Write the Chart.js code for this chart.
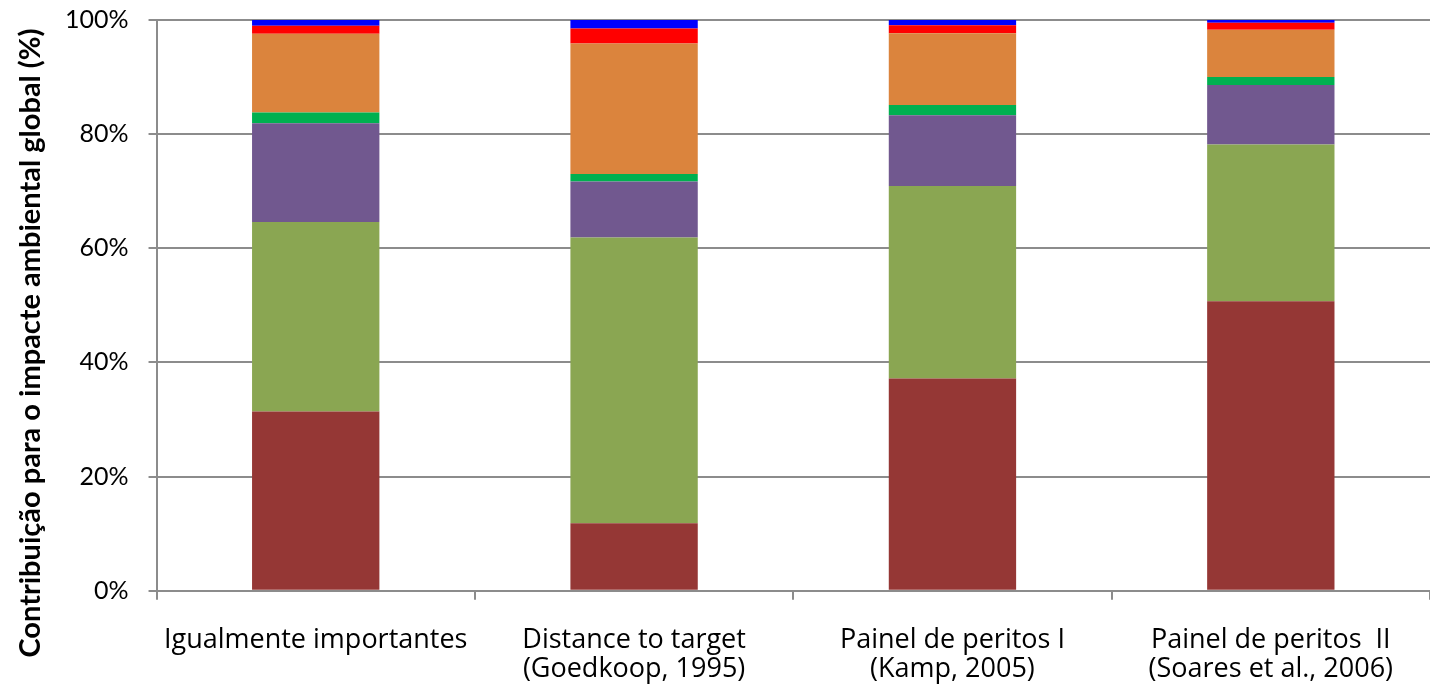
<!DOCTYPE html>
<html>
<head>
<meta charset="utf-8">
<script src="https://cdn.jsdelivr.net/npm/chart.js@4.4.1/dist/chart.umd.min.js"></script>
<style>
  html, body { margin: 0; padding: 0; background: #fff; }
  #wrap { width: 1430px; height: 685px; }
</style>
</head>
<body>
<div id="wrap"><canvas id="chart"></canvas></div>
<script>
// categories (weighting schemes)
const categories = [
    'Igualmente importantes',
    ['Distance to target', '(Goedkoop, 1995)'],
    ['Painel de peritos I', '(Kamp, 2005)'],
    ['Painel de peritos  II', '(Soares et al., 2006)']
];
const yTicks = [0, 20, 40, 60, 80, 100];
const yTitle = 'Contribuição para o impacte ambiental global (%)';

// share of each impact category, bottom to top (%)
const seriesBrown = [31.4, 11.8, 37.2, 50.7];
const seriesOlive = [33.2, 50.1, 33.7, 27.5];
const seriesPurple = [17.3, 9.8, 12.4, 10.4];
const seriesGreen = [1.9, 1.3, 1.8, 1.4];
const seriesOrange = [13.8, 22.9, 12.6, 8.3];
const seriesRed = [1.4, 2.6, 1.4, 1.2];
const seriesBlue = [1.0, 1.5, 0.9, 0.5];

const colors = ['#953735', '#8AA652', '#71588F', '#00B050', '#DB843D', '#FF0000', '#0000FF'];
const allSeries = [seriesBrown, seriesOlive, seriesPurple, seriesGreen, seriesOrange, seriesRed, seriesBlue];

const gridGrey = '#8c8c8c';
const xPad = 26;
const yPad = 20;
const overhang = -7; // plot runs a little past the right edge of the picture

// y title sits a bit below the plot centre in the original, so draw it by hand
const sideTitle = {
    id: 'sideTitle',
    afterDraw(chart) {
        const ctx = chart.ctx;
        ctx.save();
        ctx.translate(31, 343);
        ctx.rotate(-Math.PI / 2);
        ctx.font = 'bold 29px Lato';
        ctx.fillStyle = '#000';
        ctx.textAlign = 'center';
        ctx.textBaseline = 'middle';
        ctx.fillText(yTitle, 0, 0);
        ctx.restore();
    }
};

new Chart(document.getElementById('chart'), {
    type: 'bar',
    data: {
        labels: categories,
        datasets: allSeries.map((vals, i) => ({
            data: vals,
            backgroundColor: colors[i],
            borderWidth: 0,
            barPercentage: 0.4,
            categoryPercentage: 1.0
        }))
    },
    options: {
        responsive: true,
        maintainAspectRatio: false,
        animation: false,
        layout: {padding: {top: 20, right: overhang, left: 65, bottom: 1}},
        plugins: {
            legend: {display: false},
            tooltip: {enabled: false}
        },
        scales: {
            x: {
                stacked: true,
                offset: true,
                // chart.js reserves the tick padding twice; take one back
                afterFit: s => { s.paddingLeft = 0; s.paddingRight = overhang; s.height -= xPad; },
                grid: {
                    offset: true,
                    drawOnChartArea: false,
                    color: gridGrey,
                    lineWidth: 2,
                    tickLength: 9
                },
                border: {color: gridGrey, width: 2},
                ticks: {
                    color: '#000',
                    padding: xPad,
                    maxRotation: 0,
                    font: {family: 'Open Sans', size: 27, lineHeight: 1.08}
                }
            },
            y: {
                stacked: true,
                min: 0,
                max: 100,
                afterBuildTicks: axis => { axis.ticks = yTicks.map(v => ({value: v})); },
                afterFit: s => {
                    s.paddingTop = 0; s.paddingBottom = 0; s.paddingRight = overhang;
                    s.width -= yPad;
                },
                grid: {
                    color: gridGrey,
                    lineWidth: 2,
                    tickLength: 8
                },
                border: {color: gridGrey, width: 2},
                ticks: {
                    color: '#000',
                    padding: yPad,
                    callback: v => v + '%',
                    font: {family: 'Lato', size: 25}
                }
            }
        }
    },
    plugins: [sideTitle]
});
</script>
</body>
</html>
